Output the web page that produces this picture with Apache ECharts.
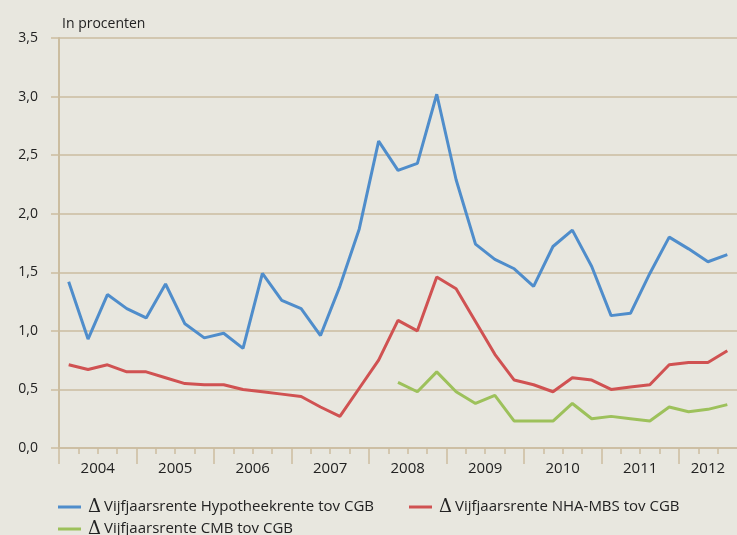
<!DOCTYPE html>
<html>
<head>
<meta charset="utf-8">
<script src="https://cdn.jsdelivr.net/npm/echarts@6/dist/echarts.min.js"></script>
<style>
  html, body { margin: 0; padding: 0; background: #E8E7DF; }
  #chart { width: 737px; height: 535px; }
</style>
</head>
<body>
<div id="chart"></div>
<script>
// quarters 2004 Q1 .. 2012 Q3
const years = ['2004', '2005', '2006', '2007', '2008', '2009', '2010', '2011', '2012'];
const yearCenters = [2, 6, 10, 14, 18, 22, 26, 30, 33.5];
const yTicks = [0, 0.5, 1, 1.5, 2, 2.5, 3, 3.5];

const hypotheek = [1.42, 0.93, 1.31, 1.19, 1.11, 1.40, 1.06, 0.94, 0.98, 0.85,
  1.49, 1.26, 1.19, 0.96, 1.38, 1.87, 2.62, 2.37, 2.43, 3.02,
  2.29, 1.74, 1.61, 1.53, 1.38, 1.72, 1.86, 1.55, 1.13, 1.15,
  1.49, 1.80, 1.70, 1.59, 1.65];
const nhaMbs = [0.71, 0.67, 0.71, 0.65, 0.65, 0.60, 0.55, 0.54, 0.54, 0.50,
  0.48, 0.46, 0.44, 0.35, 0.27, 0.51, 0.75, 1.09, 1.00, 1.46,
  1.36, 1.08, 0.80, 0.58, 0.54, 0.48, 0.60, 0.58, 0.50, 0.52,
  0.54, 0.71, 0.73, 0.73, 0.83];
const cmb = [null, null, null, null, null, null, null, null, null, null,
  null, null, null, null, null, null, null, 0.56, 0.48, 0.65,
  0.48, 0.38, 0.45, 0.23, 0.23, 0.23, 0.38, 0.25, 0.27, 0.25,
  0.23, 0.35, 0.31, 0.33, 0.37];

const names = [
  'Vijfjaarsrente Hypotheekrente tov CGB',
  'Vijfjaarsrente NHA-MBS tov CGB',
  'Vijfjaarsrente CMB tov CGB'
];
const colors = ['#4F8DCB', '#D05252', '#9DC15B'];

const gridColor = '#CBBDA0';
const textColor = '#222';
const font = 'Open Sans';

function toPoints(arr) {
  return arr.map((v, i) => [i + 0.5, v]);
}

const quarterTicks = [];
for (let i = 1; i < 35; i++) if (i % 4 !== 0) quarterTicks.push(i);
const yearTicks = [0, 4, 8, 12, 16, 20, 24, 28, 32];

function legendAt(name, left, top) {
  return {
    data: [name],
    left: left,
    top: top,
    icon: 'rect',
    itemWidth: 23,
    itemHeight: 3,
    selectedMode: false,
    formatter: n => '{d|Δ}' + n,
    textStyle: {
      color: textColor,
      fontFamily: font,
      fontSize: 15,
      padding: [0, 0, 0, 2],
      rich: {
        d: { fontFamily: 'DejaVu Serif', fontSize: 18, color: textColor, padding: [0, 3, 0, 0] }
      }
    }
  };
}

const chart = echarts.init(document.getElementById('chart'));
chart.setOption({
  backgroundColor: '#E8E7DF',
  animation: false,
  title: {
    text: 'In procenten',
    left: 57,
    top: 12,
    textStyle: { fontFamily: font, fontSize: 14, fontWeight: 'normal', color: textColor }
  },
  grid: { left: 59, top: 38, width: 685, height: 410 },
  legend: [
    legendAt(names[0], 53, 493),
    legendAt(names[1], 404, 493),
    legendAt(names[2], 53, 515)
  ],
  xAxis: [
    {
      type: 'value',
      min: 0,
      max: 35,
      axisLine: { show: true, onZero: false, lineStyle: { color: gridColor, width: 1.5 } },
      axisTick: { show: true, customValues: quarterTicks, length: 6, lineStyle: { color: gridColor, width: 1.5 } },
      axisLabel: {
        customValues: yearCenters,
        formatter: v => years[yearCenters.indexOf(v)] || '',
        margin: 13,
        color: textColor,
        fontFamily: font,
        fontSize: 15
      },
      splitLine: { show: false }
    },
    {
      type: 'value',
      min: 0,
      max: 35,
      position: 'bottom',
      axisLine: { show: false },
      axisTick: { show: true, customValues: yearTicks, length: 16, lineStyle: { color: gridColor, width: 1.5 } },
      axisLabel: { show: false },
      splitLine: { show: false }
    }
  ],
  yAxis: {
    type: 'value',
    min: 0,
    max: 3.5,
    interval: 0.5,
    axisLine: { show: true, lineStyle: { color: gridColor, width: 2 } },
    axisTick: { show: true, length: 8, lineStyle: { color: gridColor, width: 1.5 } },
    axisLabel: {
      formatter: v => v.toFixed(1).replace('.', ','),
      margin: 21,
      padding: [4, 0, 0, 0],
      color: textColor,
      fontFamily: font,
      fontSize: 14
    },
    splitLine: { show: true, lineStyle: { color: gridColor, width: 1.5 } }
  },
  series: [
    { name: names[0], type: 'line', data: toPoints(hypotheek) },
    { name: names[1], type: 'line', data: toPoints(nhaMbs) },
    { name: names[2], type: 'line', data: toPoints(cmb) }
  ].map((s, i) => Object.assign(s, {
    symbol: 'none',
    color: colors[i],
    lineStyle: { color: colors[i], width: 3 },
    connectNulls: false
  }))
});
</script>
</body>
</html>
